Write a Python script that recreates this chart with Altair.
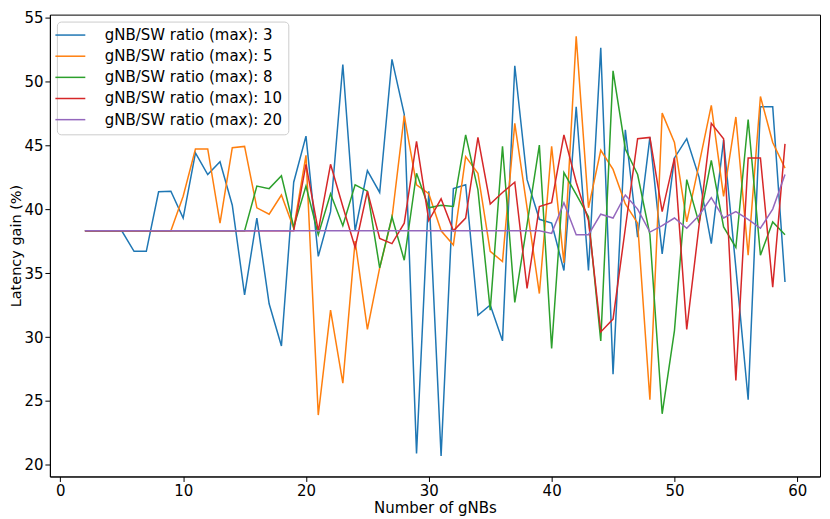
import altair as alt
import pandas as pd

x_values = list(range(2, 60))

ratio_3 = [38.3, 38.3, 38.3, 38.3, 36.7, 36.7, 41.35, 41.4, 39.3, 44.4,
           42.7, 43.7, 40.3, 33.3, 39.3, 32.6, 29.3, 42.1, 45.7, 36.3,
           39.8, 51.3, 38.3, 43.0, 41.3, 51.7, 47.4, 20.9, 41.4, 20.7,
           41.6, 41.9, 31.7, 32.5, 29.7, 51.2, 42.3, 39.2, 38.9, 35.2,
           48.0, 35.2, 52.6, 27.1, 46.2, 37.8, 45.6, 36.5, 44.0, 45.5,
           42.5, 37.3, 45.4, 35.4, 25.1, 48.0, 48.0, 34.3]

ratio_5 = [38.3, 38.3, 38.3, 38.3, 38.3, 38.3, 38.3, 38.3, 41.0, 44.7,
           44.7, 38.9, 44.8, 44.9, 40.1, 39.6, 41.1, 38.5, 44.2, 23.9,
           32.1, 26.4, 37.5, 30.6, 35.4, 39.3, 47.3, 41.9, 41.2, 38.3,
           37.2, 44.1, 42.8, 36.7, 35.9, 46.7, 40.1, 33.4, 44.9, 35.8,
           53.5, 40.1, 44.6, 43.1, 40.4, 38.9, 25.1, 47.5, 45.2, 39.0,
           43.5, 48.1, 41.0, 47.2, 36.4, 48.8, 45.2, 43.2]

ratio_8 = [38.3, 38.3, 38.3, 38.3, 38.3, 38.3, 38.3, 38.3, 38.3, 38.3,
           38.3, 38.3, 38.3, 38.3, 41.8, 41.6, 42.6, 38.6, 41.8, 38.0,
           41.2, 38.7, 41.9, 41.4, 35.4, 39.4, 36.0, 42.8, 40.1, 40.3,
           40.2, 45.8, 41.5, 32.1, 44.9, 32.7, 38.8, 45.0, 29.1, 42.85,
           41.15, 39.4, 29.7, 50.8, 44.7, 42.7, 38.0, 24.0, 30.5, 42.3,
           38.9, 43.8, 38.6, 37.0, 47.0, 36.4, 39.0, 38.0]

ratio_10 = [38.3, 38.3, 38.3, 38.3, 38.3, 38.3, 38.3, 38.3, 38.3, 38.3,
            38.3, 38.3, 38.3, 38.3, 38.3, 38.3, 38.3, 38.3, 43.5, 38.3,
            43.5, 40.2, 37.0, 41.4, 37.7, 37.3, 38.9, 45.3, 39.1, 40.8,
            38.3, 39.3, 45.6, 40.4, 41.3, 42.1, 33.8, 40.2, 40.5, 45.8,
            42.1, 39.1, 30.4, 31.4, 38.5, 45.5, 45.6, 39.8, 44.0, 30.6,
            38.7, 46.7, 45.5, 26.6, 44.0, 44.0, 33.9, 45.1]

ratio_20 = [38.3, 38.3, 38.3, 38.3, 38.3, 38.3, 38.3, 38.3, 38.3, 38.3,
            38.3, 38.3, 38.3, 38.3, 38.3, 38.3, 38.3, 38.3, 38.3, 38.3,
            38.3, 38.3, 38.3, 38.3, 38.3, 38.3, 38.3, 38.3, 38.3, 38.3,
            38.3, 38.3, 38.3, 38.3, 38.3, 38.3, 38.3, 38.3, 38.1, 40.5,
            38.0, 38.0, 39.6, 39.3, 41.1, 40.0, 38.2, 38.7, 39.3, 38.5,
            39.5, 40.9, 39.3, 39.8, 39.2, 38.5, 40.0, 42.7]

series_names = ["gNB/SW ratio (max): 3", "gNB/SW ratio (max): 5",
                "gNB/SW ratio (max): 8", "gNB/SW ratio (max): 10",
                "gNB/SW ratio (max): 20"]
series_colors = ["#1f77b4", "#ff7f0e", "#2ca02c", "#d62728", "#9467bd"]
x_ticks = [0, 10, 20, 30, 40, 50, 60]
y_ticks = [20, 25, 30, 35, 40, 45, 50, 55]

rows = []
for order, (name, vals) in enumerate(zip(series_names,
                                          [ratio_3, ratio_5, ratio_8, ratio_10, ratio_20])):
    for xv, yv in zip(x_values, vals):
        rows.append({"gnbs": xv, "gain": yv, "series": name, "order": order})
df = pd.DataFrame(rows)

FONT = "DejaVu Sans"

axis_style = dict(grid=False, tickSize=5, labelPadding=2, labelFontSize=15,
                  labelColor="black", titleColor="black",
                  tickColor="black", domainColor="black", titleFontWeight="normal",
                  labelFont=FONT, titleFont=FONT, labelFlush=False)

chart = alt.Chart(df).mark_line(strokeWidth=1.5).encode(
    x=alt.X("gnbs:Q", title="Number of gNBs",
            scale=alt.Scale(domain=[-0.85, 61.85], nice=False, zero=False),
            axis=alt.Axis(values=x_ticks, titlePadding=2, titleFontSize=15, **axis_style)),
    y=alt.Y("gain:Q", title="Latency gain (%)",
            scale=alt.Scale(domain=[19.1, 55.2], nice=False, zero=False),
            axis=alt.Axis(values=y_ticks, titlePadding=0.5, titleFontSize=14.5, **axis_style)),
    color=alt.Color("series:N",
                    scale=alt.Scale(domain=series_names, range=series_colors),
                    sort=series_names,
                    legend=alt.Legend(title=None, orient="none", legendX=7, legendY=7,
                                      symbolType="M-3,0H3", symbolSize=100,
                                      symbolStrokeWidth=1.5, labelOffset=27,
                                      labelFontSize=15, labelFont=FONT, labelColor="black",
                                      rowPadding=5.2, padding=6, fillColor="white",
                                      strokeColor="#cccccc", cornerRadius=4,
                                      labelLimit=400)),
    detail="order:O",
    order="gnbs:Q",
).properties(
    width=772, height=463,
    padding={"left": 42, "top": 6, "right": 2, "bottom": 42},
    autosize=alt.AutoSizeParams(type="none"),
).configure(
    font=FONT
).configure_view(
    stroke="black", strokeWidth=1
)

chart.save("out.html", embed_options={"renderer": "svg", "actions": False})
